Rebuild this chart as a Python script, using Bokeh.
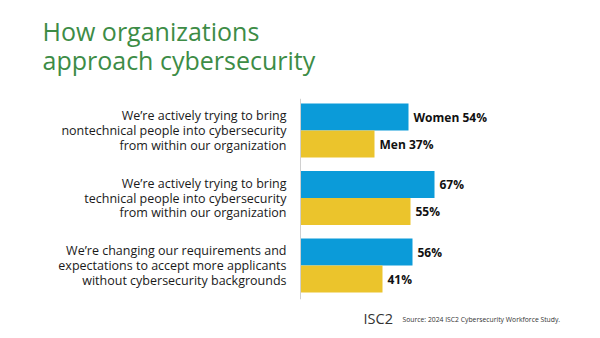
from bokeh.plotting import figure
from bokeh.models import Range1d, Label, ColumnDataSource
from bokeh.core.properties import value
from bokeh.embed import file_html
from bokeh.resources import INLINE

categories = [
    "We\u2019re actively trying to bring\nnontechnical people into cybersecurity\nfrom within our organization",
    "We\u2019re actively trying to bring\ntechnical people into cybersecurity\nfrom within our organization",
    "We\u2019re changing our requirements and\nexpectations to accept more applicants\nwithout cybersecurity backgrounds",
]
women = [54, 67, 56]
men = [37, 55, 41]
women_labels = ["Women 54%", "67%", "56%"]
men_labels = ["Men 37%", "55%", "41%"]

BLUE = "#0b9bd9"
YELLOW = "#ebc42c"
GREEN = "#3d8c46"
FONT = "Open Sans"
H = 338

p = figure(width=600, height=H, output_backend="svg", toolbar_location=None,
           x_range=Range1d(-150, 150), y_range=Range1d(3.081, -1.926),
           min_border=0, outline_line_color=None, background_fill_color="white")
p.axis.visible = False
p.grid.visible = False

idx = list(range(len(categories)))
yw = [i - 0.2 for i in idx]
ym = [i + 0.2 for i in idx]

src_w = ColumnDataSource(dict(y=yw, v=women, lab=women_labels))
src_m = ColumnDataSource(dict(y=ym, v=men, lab=men_labels))

p.hbar(y="y", left=0, right="v", height=0.4, source=src_w, fill_color=BLUE, line_color=None)
p.hbar(y="y", left=0, right="v", height=0.4, source=src_m, fill_color=YELLOW, line_color=None)

p.segment(x0=[0], x1=[0], y0=[-0.47], y1=[2.5], line_color="#d0d0d0", line_width=1)

p.text(x="v", y="y", text="lab", source=src_w, x_offset=5, text_baseline="middle",
       text_font=value(FONT), text_font_style="bold", text_font_size="12px", text_color="#111111")
p.text(x="v", y="y", text="lab", source=src_m, x_offset=5, text_baseline="middle",
       text_font=value(FONT), text_font_style="bold", text_font_size="12px", text_color="#111111")

src_c = ColumnDataSource(dict(y=idx, t=categories))
p.text(x=-7, y="y", text="t", source=src_c, text_align="right", text_baseline="middle",
       text_font=value(FONT), text_font_size="12.5px", text_color="#1a1a1a", text_line_height=0.88)

p.add_layout(Label(x=42, y=H - 30, x_units="screen", y_units="screen",
                   text="How organizations", text_font=FONT, text_font_size="25px",
                   text_color=GREEN, text_baseline="alphabetic"))
p.add_layout(Label(x=42, y=H - 59, x_units="screen", y_units="screen",
                   text="approach cybersecurity", text_font=FONT, text_font_size="25px",
                   text_color=GREEN, text_baseline="alphabetic"))

p.add_layout(Label(x=363, y=H - 318, x_units="screen", y_units="screen",
                   text="ISC2", text_font=FONT, text_font_size="14.5px",
                   text_color="#333333", text_baseline="alphabetic"))
p.add_layout(Label(x=402, y=H - 319, x_units="screen", y_units="screen",
                   text="Source: 2024 ISC2 Cybersecurity Workforce Study.", text_font=FONT,
                   text_font_size="6.8px", text_color="#333333", text_baseline="alphabetic"))

open("out.html", "w").write(file_html(p, INLINE))
